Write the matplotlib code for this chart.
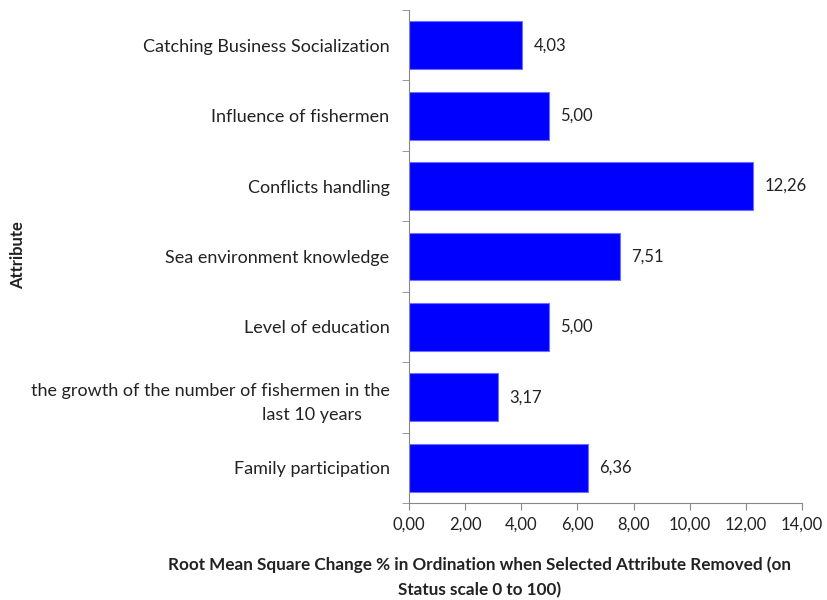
import numpy as np
import matplotlib.pyplot as plt

attributes = [
    "Catching Business Socialization",
    "Influence of fishermen",
    "Conflicts handling",
    "Sea environment knowledge",
    "Level of education",
    "the growth of the number of fishermen in the\nlast 10 years      ",
    "Family participation",
]
rms_change = [4.03, 5.00, 12.26, 7.51, 5.00, 3.17, 6.36]
x_ticks = [0, 2, 4, 6, 8, 10, 12, 14]

plt.rcParams["font.family"] = ["Lato", "DejaVu Sans"]

fig = plt.figure(figsize=(8.27, 6.0), dpi=100)
ax = fig.add_axes([0.4946, 0.1617, 0.4752, 0.8216])

y = np.arange(len(attributes))
ax.barh(y, rms_change, height=0.68, color="#0000FF", edgecolor="#6f6fff", linewidth=0.8)

for yi, v in zip(y, rms_change):
    ax.annotate(f"{v:.2f}".replace(".", ","), (v, yi), xytext=(8, 0),
                textcoords="offset points", va="center", ha="left",
                fontsize=12, color="#222222")

ax.set_ylim(len(attributes) - 0.5, -0.5)
ax.set_xlim(0, 14)
ax.set_xticks(x_ticks)
ax.set_xticklabels([f"{t:.2f}".replace(".", ",") for t in x_ticks], fontsize=12, color="#222222")

ax.set_yticks(y)
ax.set_yticklabels(attributes, fontsize=13, color="#222222", linespacing=1.6)
ax.set_yticks(np.arange(-0.5, len(attributes)), minor=True)
ax.tick_params(axis="y", which="major", length=0, pad=14)
ax.tick_params(axis="y", which="minor", length=5, color="#888888")
ax.tick_params(axis="x", which="major", length=5, color="#888888", pad=5)

for s in ["top", "right"]:
    ax.spines[s].set_visible(False)
for s in ["left", "bottom"]:
    ax.spines[s].set_color("#888888")

fig.text(0.022, 0.575, "Attribute", rotation=90, fontsize=12, fontweight="bold",
         ha="center", va="center", color="#222222")
fig.text(0.58, 0.038,
         "Root Mean Square Change % in Ordination when Selected Attribute Removed (on\nStatus scale 0 to 100)",
         ha="center", va="center", fontsize=12.3, fontweight="bold", color="#222222",
         linespacing=1.7)

fig.savefig("out.png", dpi=100)
